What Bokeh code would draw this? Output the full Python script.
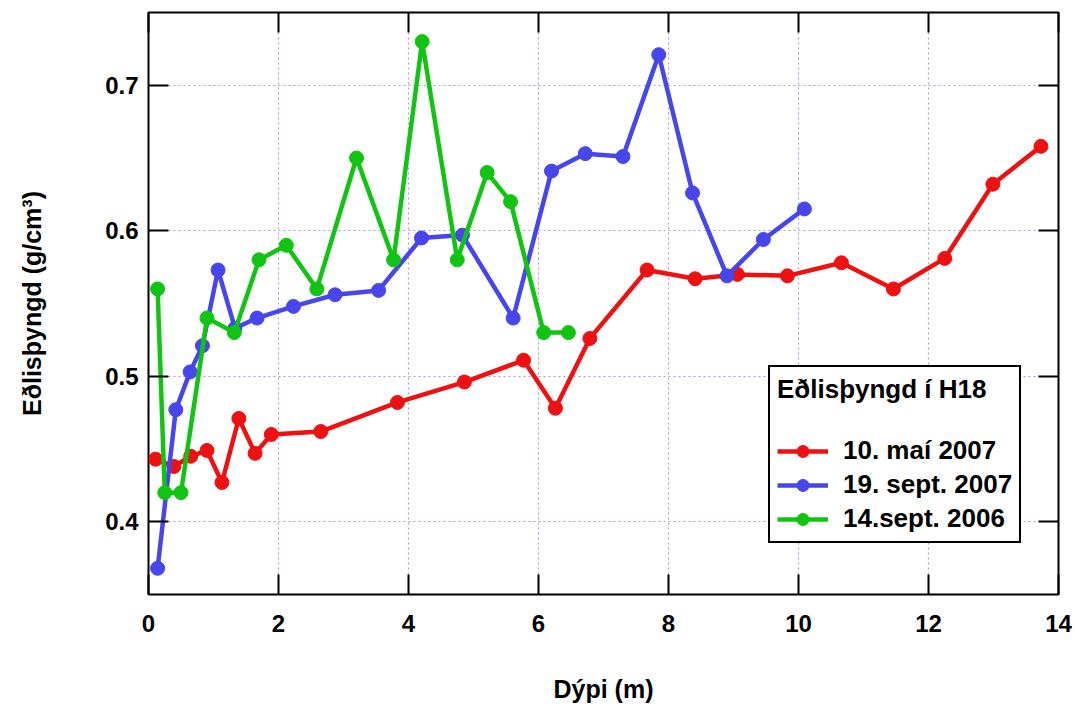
from bokeh.plotting import figure
from bokeh.models import LinearAxis, FixedTicker, Range1d
from bokeh.embed import file_html
from bokeh.resources import INLINE

# Data (depth in m, density in g/cm3)
may07_depth = [0.11, 0.39, 0.65, 0.90, 1.13, 1.39, 1.64, 1.89, 2.65, 3.83, 4.86, 5.77, 6.26, 6.79,
               7.67, 8.41, 9.06, 9.83, 10.66, 11.46, 12.25, 12.99, 13.73]
may07_dens = [0.443, 0.438, 0.445, 0.449, 0.427, 0.471, 0.447, 0.460, 0.462, 0.482, 0.496, 0.511, 0.478, 0.526,
              0.573, 0.567, 0.570, 0.569, 0.578, 0.560, 0.581, 0.632, 0.658]

sep07_depth = [0.14, 0.42, 0.64, 0.83, 1.07, 1.33, 1.67, 2.23, 2.87, 3.54, 4.20, 4.83, 5.61, 6.20, 6.72, 7.30,
               7.85, 8.37, 8.90, 9.46, 10.09]
sep07_dens = [0.368, 0.477, 0.503, 0.521, 0.573, 0.533, 0.540, 0.548, 0.556, 0.559, 0.595, 0.597, 0.540, 0.641,
              0.653, 0.651, 0.721, 0.626, 0.569, 0.594, 0.615]

sep06_depth = [0.14, 0.25, 0.50, 0.90, 1.32, 1.70, 2.12, 2.59, 3.20, 3.77, 4.21, 4.75, 5.21, 5.57, 6.08, 6.46]
sep06_dens = [0.560, 0.420, 0.420, 0.540, 0.530, 0.580, 0.590, 0.560, 0.650, 0.580, 0.730, 0.580, 0.640, 0.620,
              0.530, 0.530]

series_labels = ["10. maí 2007", "19. sept. 2007", "14.sept. 2006"]
series_colors = ["#ee1111", "#4646ec", "#12c412"]

x_ticks = [0, 2, 4, 6, 8, 10, 12, 14]
y_ticks = [0.4, 0.5, 0.6, 0.7]

FONT = "Liberation Sans"

p = figure(width=1075, height=707, output_backend="svg", toolbar_location=None,
           x_range=Range1d(0, 14), y_range=Range1d(0.35, 0.75),
           min_border_left=148, min_border_right=17, min_border_top=12, min_border_bottom=113)

p.outline_line_color = "black"
p.outline_line_width = 2
p.background_fill_color = "white"
p.border_fill_color = "white"

for ax in p.xaxis + p.yaxis:
    ax.major_tick_in = 20
    ax.major_tick_out = 0
    ax.minor_tick_line_color = None
    ax.axis_line_color = None
    ax.major_tick_line_width = 2
    ax.major_tick_line_color = "black"
    ax.major_label_text_font = FONT
    ax.major_label_text_font_style = "bold"
    ax.major_label_text_font_size = "24px"
    ax.major_label_text_color = "black"
    ax.axis_label_text_font = FONT
    ax.axis_label_text_font_style = "bold"
    ax.axis_label_text_font_size = "25px"
    ax.axis_label_text_color = "black"

p.xaxis.ticker = FixedTicker(ticks=x_ticks)
p.yaxis.ticker = FixedTicker(ticks=y_ticks)
p.xaxis.major_label_standoff = 20
p.yaxis.major_label_standoff = 10
p.xaxis.axis_label = "Dýpi (m)"
p.yaxis.axis_label = "Eðlisþyngd (g/cm³)"
p.xaxis.axis_label_standoff = 40
p.yaxis.axis_label_standoff = 56

# mirrored tick axes (ticks only, no labels)
top = LinearAxis(ticker=FixedTicker(ticks=x_ticks))
right = LinearAxis(ticker=FixedTicker(ticks=y_ticks))
for ax in (top, right):
    ax.major_tick_in = 20
    ax.major_tick_out = 0
    ax.minor_tick_line_color = None
    ax.axis_line_color = None
    ax.major_tick_line_width = 2
    ax.major_label_text_font_size = "0px"
    ax.major_label_text_color = None
    ax.major_label_standoff = 0
p.add_layout(top, "above")
p.add_layout(right, "right")

p.xgrid.ticker = FixedTicker(ticks=x_ticks)
p.ygrid.ticker = FixedTicker(ticks=y_ticks)
for g in (p.xgrid, p.ygrid):
    g.grid_line_color = "#a0a0e0"
    g.grid_line_dash = "2 3"
    g.grid_line_width = 1.2

data = [(may07_depth, may07_dens), (sep07_depth, sep07_dens), (sep06_depth, sep06_dens)]
for (xs, ys), lab, col in zip(data, series_labels, series_colors):
    p.line(xs, ys, line_color=col, line_width=4.5, legend_label=lab)
    p.scatter(xs, ys, marker="circle", size=14, fill_color=col, line_color=col, legend_label=lab)

lg = p.legend[0]
lg.title = "Eðlisþyngd í H18"
lg.title_text_font = FONT
lg.title_text_font_style = "bold"
lg.title_text_font_size = "26px"
lg.title_text_color = "black"
lg.title_standoff = 30
lg.label_text_font = FONT
lg.label_text_font_style = "bold"
lg.label_text_font_size = "26px"
lg.label_text_color = "black"
lg.label_height = 30
lg.label_standoff = 15
lg.glyph_width = 51
lg.glyph_height = 30
lg.spacing = 3
lg.padding = 7
lg.margin = 0
lg.border_line_color = "black"
lg.border_line_alpha = 1.0
lg.border_line_width = 2
lg.background_fill_alpha = 1.0
lg.location = (620, 51)

open("out.html", "w").write(file_html(p, INLINE))
